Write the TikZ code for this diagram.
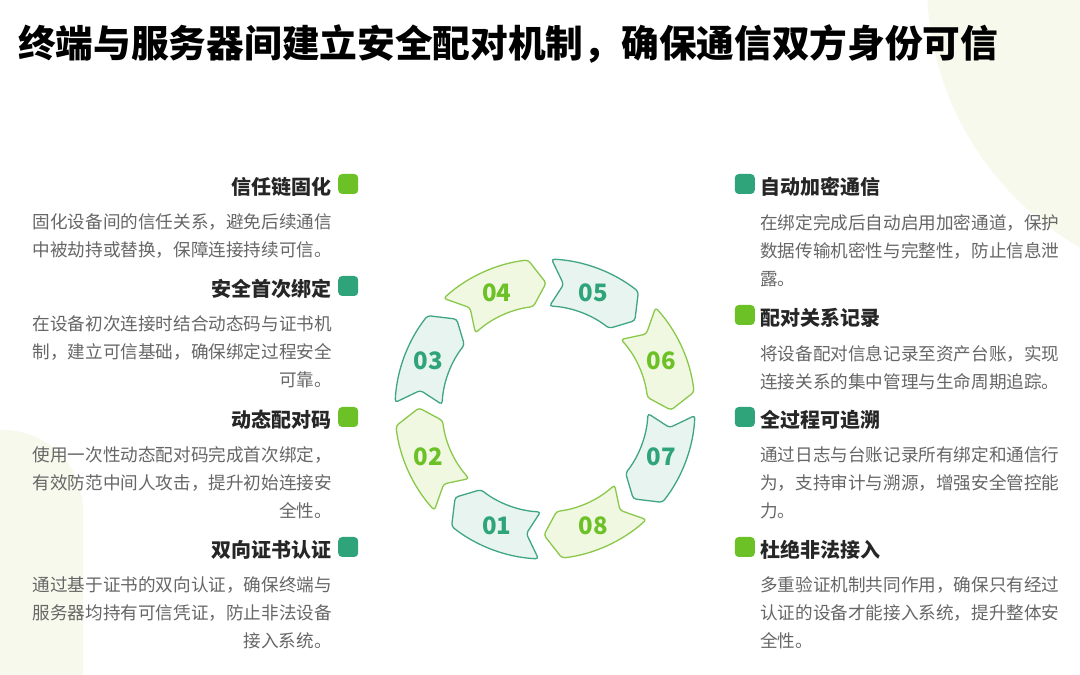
\documentclass[tikz,border=0pt]{standalone}
\usepackage{fontspec}
\setmainfont{Noto Sans CJK SC}
\usetikzlibrary{calc, positioning}
\definecolor{PaleLeaf}{HTML}{F7F9EC}
\definecolor{TealEdge}{HTML}{3FA582}
\definecolor{TealFill}{HTML}{E7F4EF}
\definecolor{TealMark}{HTML}{2FA47A}
\definecolor{LimeEdge}{HTML}{8AC84A}
\definecolor{LimeFill}{HTML}{F1F8E2}
\definecolor{LimeMark}{HTML}{6CC127}
\definecolor{InkDark}{HTML}{262626}
\definecolor{InkGrey}{HTML}{666666}
\newcommand{\ringpiece}[3]{
    \draw[#3Edge, fill=#3Fill, line width=1.3pt, rounded corners=3pt]
    (#1+20:150) arc[start angle=#1+20, end angle=#1-16, radius=150]
    -- (#1-23:126) -- (#1-16:103)
    arc[start angle=#1-16, end angle=#1+20, radius=103]
    -- (#1+14:126) -- cycle;
    \node[font=\bfseries\fontsize{24}{24}\selectfont, text=#3Mark] (num#2) at (#1:126) {#2};
}

\begin{document}
\begin{tikzpicture}[x=1pt, y=1pt,
    headL/.style={anchor=east, inner sep=0pt, text=InkDark, font=\bfseries\fontsize{20}{24}\selectfont},
    headR/.style={anchor=west, inner sep=0pt, text=InkDark, font=\bfseries\fontsize{20}{24}\selectfont},
    descL/.style={inner sep=0pt, text=InkGrey, align=right, font=\fontsize{17.6}{28}\selectfont},
    descR/.style={inner sep=0pt, text=InkGrey, align=left, font=\fontsize{17.6}{28}\selectfont},
    markbox/.style={minimum size=20pt, inner sep=0pt, rounded corners=4pt, fill=#1, yshift=3pt}]
        \fill[white] (0,0) rectangle (1080,675);
        \useasboundingbox (0,0) rectangle (1080,675);
        % Pale Backdrop
        \begin{scope}
            \clip (0,0) rectangle (1080,675);
            \fill[PaleLeaf] (1232,692) circle[radius=305];
            \fill[PaleLeaf, rounded corners=80pt] (-100,-120) rectangle (83,245);
        \end{scope}
        \node[anchor=west, inner sep=0pt, text=black, font=\bfseries\fontsize{37.7}{40}\selectfont] (title) at (18,631) {终端与服务器间建立安全配对机制，确保通信双方身份可信};

        % Ring Of Steps
        \begin{scope}[shift={(545,266)}]
            \foreach \k/\tone [count=\i] in {01/Teal, 02/Lime, 03/Teal, 04/Lime, 05/Teal, 06/Lime, 07/Teal, 08/Lime} {
                \pgfmathsetmacro{\ang}{247.5-45*(\i-1)}
                \ringpiece{\ang}{\k}{\tone}
            }
        \end{scope}

        % Left Column
        \node[headL] (headA) at (332,488) {信任链固化};
        \node[markbox=LimeMark, right=6pt of headA] (markA) {};
        \node[descL, below left=17pt and 0pt of headA.south east] (descA) {固化设备间的信任关系，避免后续通信\\中被劫持或替换，保障连接持续可信。};
        \node[headL] (headB) at (332,386) {安全首次绑定};
        \node[markbox=TealMark, right=6pt of headB] (markB) {};
        \node[descL, below left=17pt and 0pt of headB.south east] (descB) {在设备初次连接时结合动态码与证书机\\制，建立可信基础，确保绑定过程安全\\可靠。};
        \node[headL] (headC) at (332,255) {动态配对码};
        \node[markbox=LimeMark, right=6pt of headC] (markC) {};
        \node[descL, below left=17pt and 0pt of headC.south east] (descC) {使用一次性动态配对码完成首次绑定，\\有效防范中间人攻击，提升初始连接安\\全性。};
        \node[headL] (headD) at (332,125) {双向证书认证};
        \node[markbox=TealMark, right=6pt of headD] (markD) {};
        \node[descL, below left=17pt and 0pt of headD.south east] (descD) {通过基于证书的双向认证，确保终端与\\服务器均持有可信凭证，防止非法设备\\接入系统。};

        % Right Column
        \node[headR] (headE) at (760,488) {自动加密通信};
        \node[markbox=TealMark, left=5pt of headE] (markE) {};
        \node[descR, below right=17pt and 0pt of headE.south west] (descE) {在绑定完成后自动启用加密通道，保护\\数据传输机密性与完整性，防止信息泄\\露。};
        \node[headR] (headF) at (760,357) {配对关系记录};
        \node[markbox=LimeMark, left=5pt of headF] (markF) {};
        \node[descR, below right=17pt and 0pt of headF.south west] (descF) {将设备配对信息记录至资产台账，实现\\连接关系的集中管理与生命周期追踪。};
        \node[headR] (headG) at (760,255) {全过程可追溯};
        \node[markbox=TealMark, left=5pt of headG] (markG) {};
        \node[descR, below right=17pt and 0pt of headG.south west] (descG) {通过日志与台账记录所有绑定和通信行\\为，支持审计与溯源，增强安全管控能\\力。};
        \node[headR] (headH) at (760,125) {杜绝非法接入};
        \node[markbox=LimeMark, left=5pt of headH] (markH) {};
        \node[descR, below right=17pt and 0pt of headH.south west] (descH) {多重验证机制共同作用，确保只有经过\\认证的设备才能接入系统，提升整体安\\全性。};
    \end{tikzpicture}
\end{document}
